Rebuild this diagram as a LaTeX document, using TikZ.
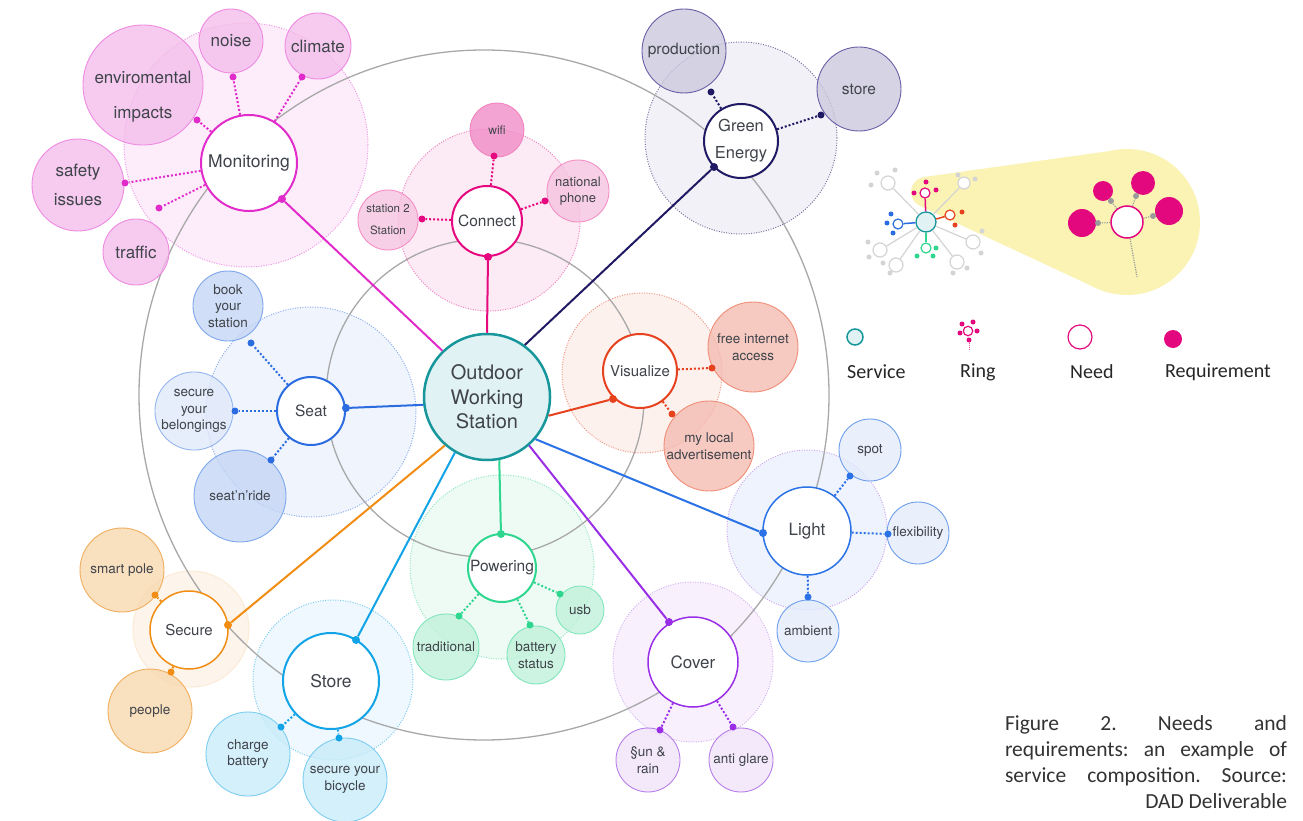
\documentclass[tikz,border=0pt]{standalone}
\usepackage{fontspec}
\setmainfont{TeX Gyre Heros}
\newfontfamily\legendfont{Carlito}

\definecolor{txt}{HTML}{3F434A}
\definecolor{orbitgray}{HTML}{A8A8A8}
\definecolor{owsfill}{HTML}{E1F2F4}
\definecolor{owsline}{HTML}{17979B}
\definecolor{cmon}{HTML}{E22BCB}
\definecolor{cmonreq}{HTML}{F4BDEB}
\definecolor{cmonring}{HTML}{FDEDFA}
\definecolor{ccon}{HTML}{E5087F}
\definecolor{cconreq}{HTML}{F6C2DF}
\definecolor{cconwifi}{HTML}{F08BC6}
\definecolor{cconring}{HTML}{FCEAF4}
\definecolor{cgre}{HTML}{1F1A63}
\definecolor{cgrereq}{HTML}{CBC8DD}
\definecolor{cgreline}{HTML}{6860A6}
\definecolor{cgrering}{HTML}{F2F1F7}
\definecolor{cseat}{HTML}{2B6CE0}
\definecolor{cseatreq}{HTML}{C4D5F5}
\definecolor{cseatpale}{HTML}{E0E9FA}
\definecolor{cseatring}{HTML}{EFF4FD}
\definecolor{cvis}{HTML}{E6421E}
\definecolor{cvisreq}{HTML}{F4BBB0}
\definecolor{cvisring}{HTML}{FDF1EE}
\definecolor{clig}{HTML}{2A72E6}
\definecolor{cligreq}{HTML}{E3EBFB}
\definecolor{cligline}{HTML}{6E9FEB}
\definecolor{cligring}{HTML}{EFF3FD}
\definecolor{cpow}{HTML}{2FD68F}
\definecolor{cpowreq}{HTML}{BFF2DA}
\definecolor{cpowring}{HTML}{EEFBF5}
\definecolor{ccov}{HTML}{9A2EE6}
\definecolor{ccovreq}{HTML}{F1E3FA}
\definecolor{ccovline}{HTML}{B77EE9}
\definecolor{ccovring}{HTML}{F8F1FD}
\definecolor{csto}{HTML}{12A4E6}
\definecolor{cstoreq}{HTML}{C8ECFA}
\definecolor{cstoring}{HTML}{EEF8FE}
\definecolor{csec}{HTML}{F08D12}
\definecolor{csecreq}{HTML}{F8D8AE}
\definecolor{csecline}{HTML}{F0AE5E}
\definecolor{csecring}{HTML}{FDF5EC}
\definecolor{legyellow}{HTML}{FAF3B4}
\definecolor{leggray}{HTML}{D4D4D4}
\definecolor{legdot}{HTML}{9A9A9A}
\definecolor{legpink}{HTML}{E4087E}

\newcommand\bigfont{\fontsize{17}{29}\selectfont}
\newcommand\reqfont{\fontsize{13.5}{16.5}\selectfont}

\begin{document}
\begin{tikzpicture}[x=1pt, y=-1pt, text=txt, font=\reqfont]
    \tikzstyle{orbit}=[draw=orbitgray, line width=1.3pt]
    \tikzstyle{leglabel}=[font=\legendfont\fontsize{20}{24}\selectfont, text=black!85, anchor=west, inner sep=0pt]
    \tikzset{
      need/.style={circle, draw=#1, fill=white, line width=2pt, align=center, inner sep=0pt},
      req/.style 2 args={circle, draw=#1, fill=#2, fill opacity=.78, text opacity=1, line width=.9pt, align=center, inner sep=0pt},
      ring/.style 2 args={draw=#1, fill=#2, line width=1pt, dash pattern=on 1pt off 1.5pt},
      dot/.style={circle, fill=#1, inner sep=0pt, minimum size=7pt},
      link/.style={draw=#1, line width=2pt},
      reqlink/.style={draw=#1, line width=2pt, dash pattern=on 2pt off 2pt},
      sz/.style={minimum size=#1*2pt}
    }
    \fill[white] (0,0) rectangle (1303,821);
    \useasboundingbox (0,0) rectangle (1303,821);

    % rings round each need
    \draw[ring={cmon!50}{cmonring}] (246,145) circle (122pt);
    \draw[ring={ccon!50}{cconring}] (489,220) circle (91pt);
    \draw[ring={cgre!60}{cgrering}] (741,138) circle (96pt);
    \draw[ring={cseat!55}{cseatring}] (311,412) circle (105pt);
    \draw[ring={cvis!55}{cvisring}] (642,373) circle (80pt);
    \draw[ring={ccovline!70}{cligring}] (807,530) circle (80pt);
    \draw[ring={cpow!55}{cpowring}] (502,567) circle (92pt);
    \draw[ring={ccovline!60}{ccovring}] (693,662) circle (80pt);
    \draw[ring={csto!55}{cstoring}] (333,680) circle (80pt);
    \draw[draw=csec!18, fill=csecring, line width=1pt] (191,629) circle (58pt);

    % gray orbits
    \draw[orbit] (484,395) circle (345pt);
    \draw[orbit] (485,398) circle (159pt);

    % requirements
    \node[req={cmon!55}{cmonreq}, sz=60] (mon-env) at (143,85) {};
    \node[font=\fontsize{17}{35}\selectfont, align=center] (mon-env-t) at (143,97) {enviromental\\impacts};
    \node[req={cmon!55}{cmonreq}, sz=32, font=\bigfont] (mon-noise) at (231,41) {noise};
    \node[req={cmon!55}{cmonreq}, sz=33, font=\bigfont] (mon-clim) at (318,46) {climate};
    \node[req={cmon!55}{cmonreq}, sz=46, font=\bigfont] (mon-safe) at (78,185) {safety\\issues};
    \node[req={cmon!55}{cmonreq}, sz=33, font=\bigfont] (mon-traf) at (136,252) {traffic};

    \node[req={ccon!50}{cconwifi}, sz=27, font=\fontsize{12}{14}\selectfont] (con-wifi) at (497,130) {wifi};
    \node[req={ccon!45}{cconreq}, sz=31, font=\fontsize{13}{16}\selectfont] (con-nat) at (578,191) {national\\phone};
    \node[req={ccon!45}{cconreq}, sz=30, font=\fontsize{11.5}{22}\selectfont] (con-st) at (388,220) {station 2\\Station};

    \node[req={cgreline}{cgrereq}, sz=42, font=\fontsize{15.5}{18}\selectfont] (gre-prod) at (684,51) {production};
    \node[req={cgreline}{cgrereq}, sz=42, font=\fontsize{15.5}{18}\selectfont] (gre-store) at (859,89) {store};

    \node[req={cseat!60}{cseatreq}, sz=35] (seat-book) at (228,306) {book\\your\\station};
    \node[req={cseat!50}{cseatpale}, sz=37] (seat-bel) at (194,411) {secure\\your\\belongings};
    \node[req={cseat!60}{cseatreq}, sz=46] (seat-ride) at (240,496) {seat’n’ride};

    \node[req={cvis!60}{cvisreq}, sz=45] (vis-free) at (753,347) {free internet\\access};
    \node[req={cvis!60}{cvisreq}, sz=45] (vis-loc) at (709,446) {my local\\advertisement};

    \node[req={cligline}{cligreq}, sz=31] (lig-spot) at (870,450) {spot};
    \node[req={cligline}{cligreq}, sz=31] (lig-flex) at (918,533) {flexibility};
    \node[req={cligline}{cligreq}, sz=31] (lig-amb) at (808,631) {ambient};

    \node[req={cpow!60}{cpowreq}, sz=24] (pow-usb) at (580,610) {usb};
    \node[req={cpow!60}{cpowreq}, sz=33] (pow-trad) at (446,647) {traditional};
    \node[req={cpow!60}{cpowreq}, sz=29] (pow-bat) at (536,655) {battery\\status};

    \node[req={ccovline}{ccovreq}, sz=32] (cov-sun) at (648,760) {§un \&\\rain};
    \node[req={ccovline}{ccovreq}, sz=32] (cov-anti) at (741,760) {anti glare};

    \node[req={csto!55}{cstoreq}, sz=42] (sto-chg) at (248,754) {charge\\battery};
    \node[req={csto!55}{cstoreq}, sz=42] (sto-bic) at (345,780) {secure your\\bicycle};

    \node[req={csecline}{csecreq}, sz=42] (sec-pole) at (122,570) {smart pole};
    \node[req={csecline}{csecreq}, sz=42] (sec-ppl) at (150,711) {people};

    % service and needs
    \node[circle, draw=owsline, fill=owsfill, line width=2.5pt, sz=63, align=center, inner sep=0pt,
          font=\fontsize{20}{24.5}\selectfont] (ows) at (487,397) {Outdoor\\Working\\Station};
    \node[need=cmon, sz=48, font=\fontsize{17.5}{20}\selectfont] (mon) at (249,163) {Monitoring};
    \node[need=ccon, sz=35, font=\fontsize{15.5}{18}\selectfont] (con) at (487,221) {Connect};
    \node[need=cgre, sz=37, font=\fontsize{16.5}{27}\selectfont] (gre) at (741,141) {Green\\Energy};
    \node[need=cseat, sz=34, font=\fontsize{15.5}{18}\selectfont] (seat) at (311,411) {Seat};
    \node[need=cvis, sz=37, font=\fontsize{15}{18}\selectfont] (vis) at (640,371) {Visualize};
    \node[need=clig, sz=44, line width=1.5pt, font=\fontsize{17}{20}\selectfont] (lig) at (807,531) {Light};
    \node[need=cpow, sz=34, font=\fontsize{15.5}{18}\selectfont] (pow) at (502,568) {Powering};
    \node[need=ccov, sz=45, line width=1.5pt, font=\fontsize{17}{20}\selectfont] (cov) at (693,662) {Cover};
    \node[need=csto, sz=48, font=\fontsize{17.5}{20}\selectfont] (sto) at (331,681) {Store};
    \node[need=csec, sz=39, line width=1.5pt, font=\fontsize{15}{18}\selectfont] (sec) at (189,630) {Secure};

    % service -> need
    \node[dot=cmon, sz=4] (mon-d) at (282,199) {};
    \node[dot=ccon, sz=4] (con-d) at (488,257) {};
    \node[dot=cgre, sz=4] (gre-d) at (714,167) {};
    \node[dot=cseat, sz=4] (seat-d) at (346,408) {};
    \node[dot=cvis, sz=4] (vis-d) at (613,399) {};
    \node[dot=clig, sz=4] (lig-d) at (763,533) {};
    \node[dot=cpow, sz=4] (pow-d) at (501,534) {};
    \node[dot=ccov, sz=4] (cov-d) at (669,622) {};
    \node[dot=csto, sz=4] (sto-d) at (356,640) {};
    \node[dot=csec, sz=4] (sec-d) at (228,625) {};
    \draw[link=cmon] (mon-d) -- (ows.134);
    \draw[link=ccon] (con-d) -- (ows.north);
    \draw[link=cgre] (gre-d) -- (ows.54);
    \draw[link=cseat] (seat-d) -- (ows.187);
    \draw[link=cvis] (vis-d) -- (ows.-17);
    \draw[link=clig] (lig-d) -- (ows.-41);
    \draw[link=cpow] (pow-d) -- (ows.-79);
    \draw[link=ccov] (cov-d) -- (ows.-49);
    \draw[link=csto] (sto-d) -- (ows.-120);
    \draw[link=csec] (sec-d) -- (ows.-131);

    % need -> requirement
    \node[dot=cmon] (mon-env-d) at (197,120) {};
    \node[dot=cmon] (mon-noise-d) at (233,77) {};
    \node[dot=cmon] (mon-clim-d) at (302,77) {};
    \node[dot=cmon] (mon-safe-d) at (125,183) {};
    \node[dot=cmon] (mon-traf-d) at (159,208) {};
    \draw[reqlink=cmon] (mon) -- (mon-env-d);
    \draw[reqlink=cmon] (mon) -- (mon-noise-d);
    \draw[reqlink=cmon] (mon) -- (mon-clim-d);
    \draw[reqlink=cmon] (mon) -- (mon-safe-d);
    \draw[reqlink=cmon] (mon) -- (mon-traf-d);

    \node[dot=ccon] (con-wifi-d) at (494,156) {};
    \node[dot=ccon] (con-nat-d) at (545,201) {};
    \node[dot=ccon] (con-st-d) at (422,219) {};
    \draw[reqlink=ccon] (con) -- (con-wifi-d);
    \draw[reqlink=ccon] (con) -- (con-nat-d);
    \draw[reqlink=ccon] (con) -- (con-st-d);

    \node[dot=cgre] (gre-prod-d) at (711,92) {};
    \node[dot=cgre] (gre-store-d) at (821,115) {};
    \draw[reqlink=cgre] (gre) -- (gre-prod-d);
    \draw[reqlink=cgre] (gre) -- (gre-store-d);

    \node[dot=cseat] (seat-book-d) at (251,343) {};
    \node[dot=cseat] (seat-bel-d) at (235,411) {};
    \node[dot=cseat] (seat-ride-d) at (271,460) {};
    \draw[reqlink=cseat] (seat) -- (seat-book-d);
    \draw[reqlink=cseat] (seat) -- (seat-bel-d);
    \draw[reqlink=cseat] (seat) -- (seat-ride-d);

    \node[dot=cvis] (vis-free-d) at (712,368) {};
    \node[dot=cvis] (vis-loc-d) at (672,414) {};
    \draw[reqlink=cvis] (vis) -- (vis-free-d);
    \draw[reqlink=cvis] (vis) -- (vis-loc-d);

    \node[dot=clig] (lig-spot-d) at (850,476) {};
    \node[dot=clig] (lig-flex-d) at (888,534) {};
    \node[dot=clig] (lig-amb-d) at (808,597) {};
    \draw[reqlink=clig] (lig) -- (lig-spot-d);
    \draw[reqlink=clig] (lig) -- (lig-flex-d);
    \draw[reqlink=clig] (lig) -- (lig-amb-d);

    \node[dot=cpow] (pow-usb-d) at (560,594) {};
    \node[dot=cpow] (pow-trad-d) at (459,616) {};
    \node[dot=cpow] (pow-bat-d) at (530,625) {};
    \draw[reqlink=cpow] (pow) -- (pow-usb-d);
    \draw[reqlink=cpow] (pow) -- (pow-trad-d);
    \draw[reqlink=cpow] (pow) -- (pow-bat-d);

    \node[dot=ccov] (cov-sun-d) at (660,730) {};
    \node[dot=ccov] (cov-anti-d) at (733,727) {};
    \draw[reqlink=ccov] (cov) -- (cov-sun-d);
    \draw[reqlink=ccov] (cov) -- (cov-anti-d);

    \node[dot=csto] (sto-chg-d) at (281,727) {};
    \node[dot=csto] (sto-bic-d) at (339,738) {};
    \draw[reqlink=csto] (sto) -- (sto-chg-d);
    \draw[reqlink=csto] (sto) -- (sto-bic-d);

    \node[dot=csec] (sec-pole-d) at (155,595) {};
    \node[dot=csec] (sec-ppl-d) at (171,672) {};
    \draw[reqlink=csec] (sec) -- (sec-pole-d);
    \draw[reqlink=csec] (sec) -- (sec-ppl-d);

    % legend: one ring seen up close
    \fill[legyellow] (926,192) circle (15pt) (1127,222) circle (73pt);
    \fill[legyellow] (924,177) -- (1117,150) -- (1096,288) -- (920,206) -- cycle;

    \node[circle, draw=owsline, fill=owsfill, line width=1.3pt, sz=10] (lg-serv) at (926,222) {};
    \node[circle, draw=leggray, fill=white, line width=1.2pt, sz=7] (lg-g1) at (888,183) {};
    \node[circle, draw=leggray, fill=white, line width=1.2pt, sz=6] (lg-g2) at (964,183) {};
    \node[circle, draw=leggray, fill=white, line width=1.2pt, sz=7] (lg-g3) at (880,250) {};
    \node[circle, draw=leggray, fill=white, line width=1.2pt, sz=7] (lg-g4) at (973,242) {};
    \node[circle, draw=leggray, fill=white, line width=1.2pt, sz=7] (lg-g5) at (896,265) {};
    \node[circle, draw=leggray, fill=white, line width=1.2pt, sz=7] (lg-g6) at (957,262) {};
    \draw[leggray, line width=1.2pt] (lg-serv) -- (lg-g1);
    \draw[leggray, line width=1.2pt] (lg-serv) -- (lg-g2);
    \draw[leggray, line width=1.2pt] (lg-serv) -- (lg-g3);
    \draw[leggray, line width=1.2pt] (lg-serv) -- (lg-g4);
    \draw[leggray, line width=1.2pt] (lg-serv) -- (lg-g5);
    \draw[leggray, line width=1.2pt] (lg-serv) -- (lg-g6);
    \node[dot=leggray, sz=2.5] (lg-g1a) at (877,173) {};
    \node[dot=leggray, sz=2.5] (lg-g1b) at (895,170) {};
    \node[dot=leggray, sz=2.5] (lg-g1c) at (871,185) {};
    \node[dot=leggray, sz=2.5] (lg-g2a) at (958,175) {};
    \node[dot=leggray, sz=2.5] (lg-g2b) at (975,179) {};
    \node[dot=leggray, sz=2.5] (lg-g3a) at (868,242) {};
    \node[dot=leggray, sz=2.5] (lg-g3b) at (869,257) {};
    \node[dot=leggray, sz=2.5] (lg-g4a) at (982,231) {};
    \node[dot=leggray, sz=2.5] (lg-g4b) at (981,253) {};
    \node[dot=leggray, sz=2.5] (lg-g5a) at (883,263) {};
    \node[dot=leggray, sz=2.5] (lg-g5b) at (890,273) {};
    \node[dot=leggray, sz=2.5] (lg-g6a) at (967,268) {};
    \node[dot=leggray, sz=2.5] (lg-g6b) at (953,273) {};

    \node[circle, draw=legpink, fill=white, line width=1.2pt, sz=5] (lg-con) at (925,193) {};
    \node[circle, draw=cseat, fill=white, line width=1.2pt, sz=5] (lg-seat) at (898,224) {};
    \node[circle, draw=cvis, fill=white, line width=1.2pt, sz=5] (lg-vis) at (950,215) {};
    \node[circle, draw=cpow, fill=white, line width=1.2pt, sz=5] (lg-pow) at (926,248) {};
    \draw[legpink, line width=1.5pt] (lg-serv) -- (lg-con);
    \draw[cseat, line width=1.5pt] (lg-serv) -- (lg-seat);
    \draw[cvis, line width=1.5pt] (lg-serv) -- (lg-vis);
    \draw[cpow, line width=1.5pt] (lg-serv) -- (lg-pow);
    \node[dot=legpink, sz=2.5] (lg-con-a) at (914,193) {};
    \node[dot=legpink, sz=2.5] (lg-con-b) at (926,182) {};
    \node[dot=legpink, sz=2.5] (lg-con-c) at (936,190) {};
    \node[dot=cseat, sz=2.5] (lg-seat-a) at (887,223) {};
    \node[dot=cseat, sz=2.5] (lg-seat-b) at (891,214) {};
    \node[dot=cseat, sz=2.5] (lg-seat-c) at (893,233) {};
    \node[dot=cvis, sz=2.5] (lg-vis-a) at (962,212) {};
    \node[dot=cvis, sz=2.5] (lg-vis-b) at (955,225) {};
    \node[dot=cpow, sz=2.5] (lg-pow-a) at (917,256) {};
    \node[dot=cpow, sz=2.5] (lg-pow-b) at (936,248) {};
    \node[dot=cpow, sz=2.5] (lg-pow-c) at (933,256) {};

    \node[circle, draw=legpink, fill=white, line width=1.5pt, sz=16] (lg-big) at (1127,222) {};
    \node[circle, fill=legpink, sz=10] (lg-r1) at (1103,191) {};
    \node[circle, fill=legpink, sz=12] (lg-r2) at (1143,183) {};
    \node[circle, fill=legpink, sz=14] (lg-r3) at (1169,211) {};
    \node[circle, fill=legpink, sz=14] (lg-r4) at (1082,223) {};
    \node[dot=legdot, sz=3] (lg-d1) at (1111,201) {};
    \node[dot=legdot, sz=3] (lg-d2) at (1136,196) {};
    \node[dot=legdot, sz=3] (lg-d3) at (1153,216) {};
    \node[dot=legdot, sz=3] (lg-d4) at (1098,223) {};
    \coordinate (lg-tail) at (1137,277);
    \draw[legdot, line width=1.2pt, dash pattern=on 1.2pt off 1.2pt] (lg-big) -- (lg-d1);
    \draw[legdot, line width=1.2pt, dash pattern=on 1.2pt off 1.2pt] (lg-big) -- (lg-d2);
    \draw[legdot, line width=1.2pt, dash pattern=on 1.2pt off 1.2pt] (lg-big) -- (lg-d3);
    \draw[legdot, line width=1.2pt, dash pattern=on 1.2pt off 1.2pt] (lg-big) -- (lg-d4);
    \draw[legdot, line width=1.2pt, dash pattern=on 1.2pt off 1.2pt] (lg-big) -- (lg-tail);

    % legend: keys
    \node[circle, draw=owsline, fill=owsfill, line width=1.5pt, sz=8] (lg-service) at (855,337) {};
    \node[circle, draw=legpink, fill=white, line width=1.2pt, sz=4] (lg-ring) at (968,331) {};
    \node[dot=legpink, sz=2.5] (lg-ring-a) at (962,324) {};
    \node[dot=legpink, sz=2.5] (lg-ring-b) at (973,322) {};
    \node[dot=legpink, sz=2.5] (lg-ring-c) at (977,331) {};
    \node[dot=legpink, sz=2.5] (lg-ring-d) at (960,333) {};
    \node[dot=legpink, sz=2.5] (lg-ring-e) at (969,340) {};
    \coordinate (lg-ring-tail) at (969,350);
    \draw[legpink!70, line width=1pt, dash pattern=on 1pt off 1pt] (lg-ring-e) -- (lg-ring-tail);
    \node[circle, draw=legpink, fill=white, line width=1.2pt, sz=12] (lg-need) at (1080,337) {};
    \node[circle, fill=legpink, sz=9] (lg-req) at (1173,339) {};
    \node[leglabel] (lg-service-t) at (847,372) {Service};
    \node[leglabel] (lg-ring-t) at (960,372) {Ring};
    \node[leglabel] (lg-need-t) at (1070,372) {Need};
    \node[leglabel] (lg-req-t) at (1165,372) {Requirement};

    % caption
    \node[text width=282pt, align=justify, inner sep=0pt, text=black!80, font=\legendfont\fontsize{21.5}{26}\selectfont] (caption) at (1146,762)
      {\frenchspacing\parfillskip=0pt\hyphenpenalty=10000 Figure 2. Needs and\linebreak requirements: an example of\linebreak service composition. Source:\linebreak\null\hfill DAD Deliverable};
\end{tikzpicture}
\end{document}
